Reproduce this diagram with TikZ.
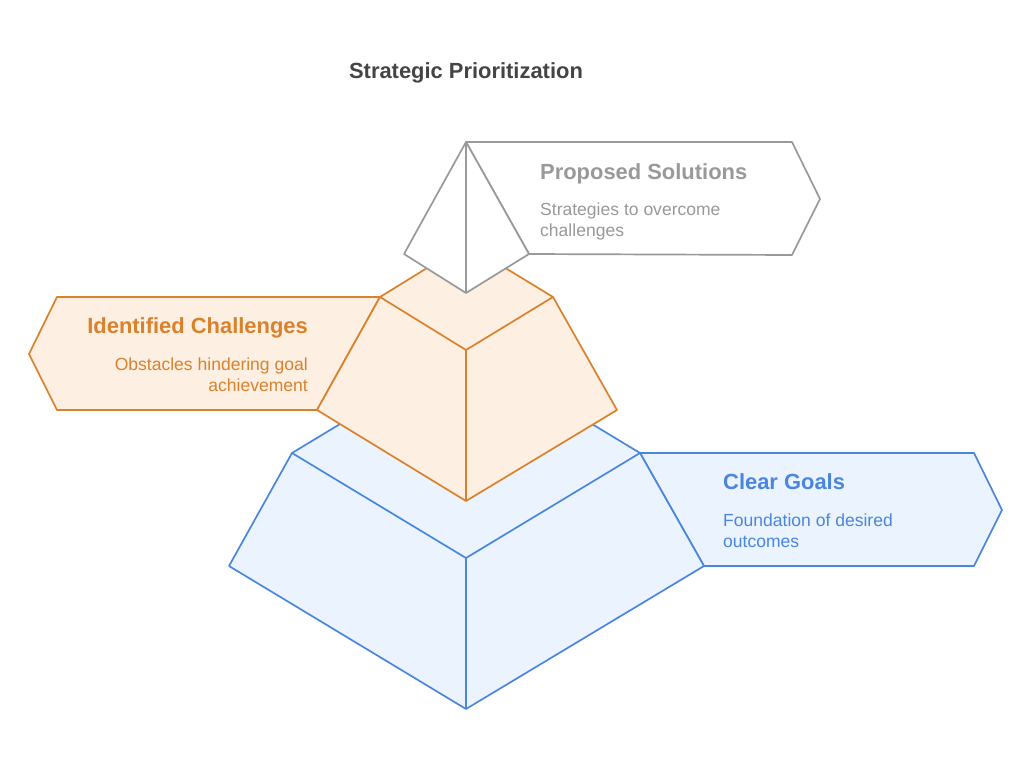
\documentclass[tikz,border=0pt]{standalone}
\usepackage{fontspec}
\setmainfont{Liberation Sans}
\definecolor{bstroke}{HTML}{4A86DE}
\definecolor{bfill}{HTML}{EBF3FE}
\definecolor{ostroke}{HTML}{D9822B}
\definecolor{ofill}{HTML}{FDEFE2}
\definecolor{gstroke}{HTML}{999999}
\definecolor{gtext}{HTML}{999999}
\definecolor{titlec}{HTML}{444444}
\tikzset{
  shape line/.style={line width=1.7bp, line join=round},
  headfont/.style={font=\fontsize{22}{26}\selectfont\bfseries, inner sep=0},
  bodyfont/.style={font=\fontsize{17.6}{21}\selectfont, inner sep=0},
}
\begin{document}
\begin{tikzpicture}[x=1bp,y=-1bp]
\useasboundingbox (0,0) rectangle (1032,768);
% ---------- blue level ----------
\coordinate (bL) at (292,453); \coordinate (bB) at (466,348);
\coordinate (bR) at (640,453); \coordinate (bF) at (466,558);
\coordinate (bLL) at (229,566); \coordinate (bRR) at (704,566);
\coordinate (bA) at (466,709);
\filldraw[shape line, draw=bstroke, fill=bfill] (bR) -- (974,453) -- (1002,510) -- (974,566) -- (bRR) -- cycle;
\filldraw[shape line, draw=bstroke, fill=bfill] (bL) -- (bB) -- (bR) -- (bRR) -- (bA) -- (bLL) -- cycle;
\draw[shape line, draw=bstroke] (bL) -- (bF) -- (bR) (bF) -- (bA);
% ---------- orange level ----------
\coordinate (oL) at (380,297); \coordinate (oB) at (466,244);
\coordinate (oR) at (553,297); \coordinate (oF) at (466,350);
\coordinate (oLL) at (317,410); \coordinate (oRR) at (617,410);
\coordinate (oA) at (466,501);
\filldraw[shape line, draw=ostroke, fill=ofill] (oL) -- (57,297) -- (29,354) -- (57,410) -- (oLL) -- cycle;
\filldraw[shape line, draw=ostroke, fill=ofill] (oL) -- (oB) -- (oR) -- (oRR) -- (oA) -- (oLL) -- cycle;
\draw[shape line, draw=ostroke] (oL) -- (oF) -- (oR) (oF) -- (oA);
% ---------- gray level ----------
\coordinate (gT) at (466,142); \coordinate (gL) at (404,254);
\coordinate (gR) at (529,254); \coordinate (gF) at (466,293);
\filldraw[shape line, draw=gstroke, fill=white] (gT) -- (792,142) -- (820,199) -- (792,255) -- (gR) -- cycle;
\filldraw[shape line, draw=gstroke, fill=white] (gT) -- (gR) -- (gF) -- (gL) -- cycle;
\draw[shape line, draw=gstroke] (gT) -- (gF);
% ---------- texts ----------
\node[headfont, text=titlec, anchor=base] (title) at (466,79) {Strategic Prioritization};
\node[headfont, text=gtext, anchor=base west] (ps) at (540,179) {Proposed Solutions};
\node[bodyfont, text=gtext, anchor=base west] (ps1) at (540,215) {Strategies to overcome};
\node[bodyfont, text=gtext, anchor=base west] (ps2) at (540,236) {challenges};
\node[headfont, text=ostroke, anchor=base east] (ic) at (308,333) {Identified Challenges};
\node[bodyfont, text=ostroke, anchor=base east] (ic1) at (308,370) {Obstacles hindering goal};
\node[bodyfont, text=ostroke, anchor=base east] (ic2) at (308,391) {achievement};
\node[headfont, text=bstroke, anchor=base west] (cg) at (723,489) {Clear Goals};
\node[bodyfont, text=bstroke, anchor=base west] (cg1) at (723,526) {Foundation of desired};
\node[bodyfont, text=bstroke, anchor=base west] (cg2) at (723,547) {outcomes};
\end{tikzpicture}
\end{document}
